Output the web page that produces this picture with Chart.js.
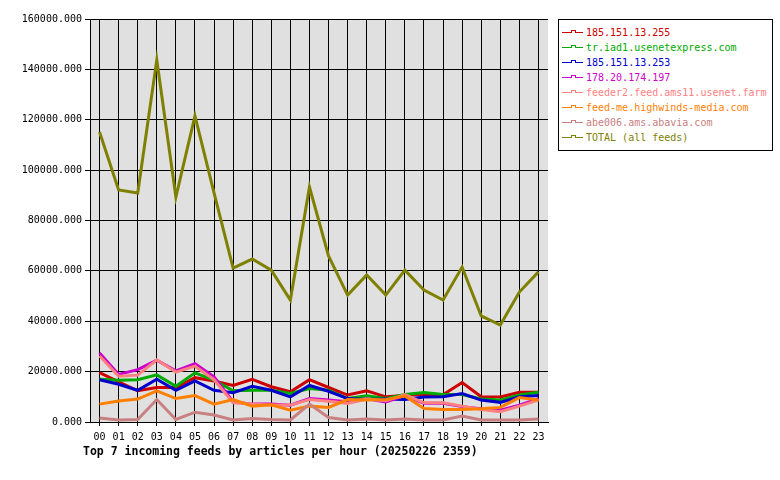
<!DOCTYPE html>
<html>
<head>
<meta charset="utf-8">
<script src="https://cdn.jsdelivr.net/npm/chart.js@4.4.1/dist/chart.umd.min.js"></script>
<style>
  body { margin: 0; background: #fff; }
  #wrap { position: relative; width: 780px; height: 480px; }
  #title { position: absolute; left: 83px; top: 444px; font: bold 11.5px "DejaVu Sans Mono", monospace; color: #000; white-space: nowrap; }
  #legend { position: absolute; left: 558px; top: 19px; width: 215px; height: 132px; box-sizing: border-box; border: 1px solid #000; background: #fff; padding-top: 5px; }
  .row { position: relative; height: 15px; font: 10px "DejaVu Sans Mono", monospace; line-height: 15px; white-space: nowrap; }
  .row .ln { position: absolute; left: 3px; top: 7px; width: 21px; height: 1px; }
  .row .mk { position: absolute; left: 12px; top: 5px; width: 3px; height: 2px; border: 1px solid; border-bottom: none; background: #fff; }
  .row .tx { position: absolute; left: 27px; top: 0; }
</style>
</head>
<body>
<div id="wrap">
  <canvas id="feedChart" width="780" height="480"></canvas>
  <div id="legend"></div>
  <div id="title">Top 7 incoming feeds by articles per hour (20250226 2359)</div>
</div>
<script>
var hours = ['00','01','02','03','04','05','06','07','08','09','10','11',
             '12','13','14','15','16','17','18','19','20','21','22','23'];

var names = ['185.151.13.255', 'tr.iad1.usenetexpress.com', '185.151.13.253', '178.20.174.197',
             'feeder2.feed.ams11.usenet.farm', 'feed-me.highwinds-media.com', 'abe006.ams.abavia.com',
             'TOTAL (all feeds)'];

var colors = ['#cc0000', '#00aa00', '#0000cc', '#cc00cc', '#ff8080', '#ff8000', '#c88080', '#808000'];

var feed255 = [19600, 15900, 12400, 13700, 13700, 17600, 16300, 14500, 16900, 14000, 12000, 16800,
               13700, 10700, 12400, 10000, 10500, 11000, 10800, 15700, 10000, 9900, 11800, 11800];
var usenetexpress = [17000, 16600, 16800, 18700, 14200, 19500, 16600, 12400, 12600, 12600, 11300, 13300,
                     12600, 9300, 10400, 9300, 10900, 11700, 10900, 10900, 9100, 8700, 10700, 11800];
var feed253 = [16800, 15000, 12600, 17000, 12600, 16300, 12600, 11600, 14200, 12600, 10000, 14500,
               12200, 9300, 8900, 9100, 8900, 9900, 10000, 11300, 8700, 7800, 10000, 10500];
var feed197 = [27400, 18900, 20800, 24500, 20300, 23200, 17900, 8000, 7100, 7100, 6700, 9300,
               8700, 8000, 9200, 8000, 10500, 7400, 7400, 6100, 5300, 4700, 6700, 9300];
var usenetfarm = [26200, 18200, 18600, 24700, 19800, 22200, 16800, 7600, 7100, 6700, 6700, 8900,
                  8200, 7400, 9100, 8400, 10900, 7600, 7600, 6300, 5000, 4100, 6300, 8700];
var highwinds = [7100, 8300, 9100, 12400, 9300, 10500, 7100, 8900, 6300, 6800, 4700, 6300,
                 5800, 8900, 8700, 8900, 10300, 5400, 5000, 5000, 5300, 5800, 9700, 8700];
var abavia = [1600, 800, 1000, 8900, 1000, 3900, 2800, 800, 1400, 1000, 800, 7100,
              1800, 800, 1200, 800, 1200, 800, 800, 2400, 800, 800, 800, 1200];
var total = [115100, 92100, 90900, 143700, 89300, 121500, 91000, 61100, 64700, 60300, 48400, 93300,
             65900, 50400, 58400, 50400, 60300, 52400, 48400, 61500, 42100, 38500, 51600, 59600];

var series = [feed255, usenetexpress, feed253, feed197, usenetfarm, highwinds, abavia, total];

var sets = [];
for (var i = 0; i < series.length; i++) {
    sets.push({
        label: names[i],
        data: series[i],
        borderColor: colors[i],
        backgroundColor: colors[i],
        borderWidth: 3,
        pointRadius: 0,
        tension: 0,
        fill: false,
        order: series.length - i   // later feeds on top
    });
}

// grey plot background
var plotBg = {
    id: 'plotBg',
    beforeDraw: function (chart) {
        var a = chart.chartArea;
        chart.ctx.save();
        chart.ctx.fillStyle = '#e0e0e0';
        chart.ctx.fillRect(a.left, a.top, a.right - a.left, a.bottom - a.top);
        chart.ctx.restore();
    }
};

var mono = { family: 'DejaVu Sans Mono', size: 10 };

var ctx = document.getElementById('feedChart').getContext('2d');
var feedChart = new Chart(ctx, {
    type: 'line',
    data: { labels: hours, datasets: sets },
    options: {
        responsive: false,
        animation: false,
        devicePixelRatio: 1,
        layout: { padding: { left: 0, right: 232, top: 19, bottom: 0 } },
        plugins: { legend: { display: false }, tooltip: { enabled: false } },
        scales: {
            x: {
                type: 'category',
                offset: true,
                afterFit: function (s) { s.height = 58; },
                grid: { offset: false, color: '#000', lineWidth: 1, drawTicks: true, tickLength: 4 },
                border: { color: '#000', width: 1 },
                ticks: { color: '#000', font: mono, padding: 5, maxRotation: 0, autoSkip: false }
            },
            y: {
                min: 0,
                max: 160000,
                afterFit: function (s) { s.width = 90; },
                grid: { color: '#000', lineWidth: 1, tickLength: 5 },
                border: { color: '#000', width: 1 },
                ticks: {
                    stepSize: 20000,
                    color: '#000',
                    font: mono,
                    padding: 3,
                    callback: function (v) { return v.toFixed(3); }
                }
            }
        }
    },
    plugins: [plotBg]
});

// legend box
var lg = document.getElementById('legend');
for (var k = 0; k < names.length; k++) {
    var row = document.createElement('div');
    row.className = 'row';
    row.innerHTML = '<span class="ln" style="background:' + colors[k] + '"></span>' +
                    '<span class="mk" style="border-color:' + colors[k] + '"></span>' +
                    '<span class="tx" style="color:' + colors[k] + '">' + names[k] + '</span>';
    lg.appendChild(row);
}
</script>
</body>
</html>
